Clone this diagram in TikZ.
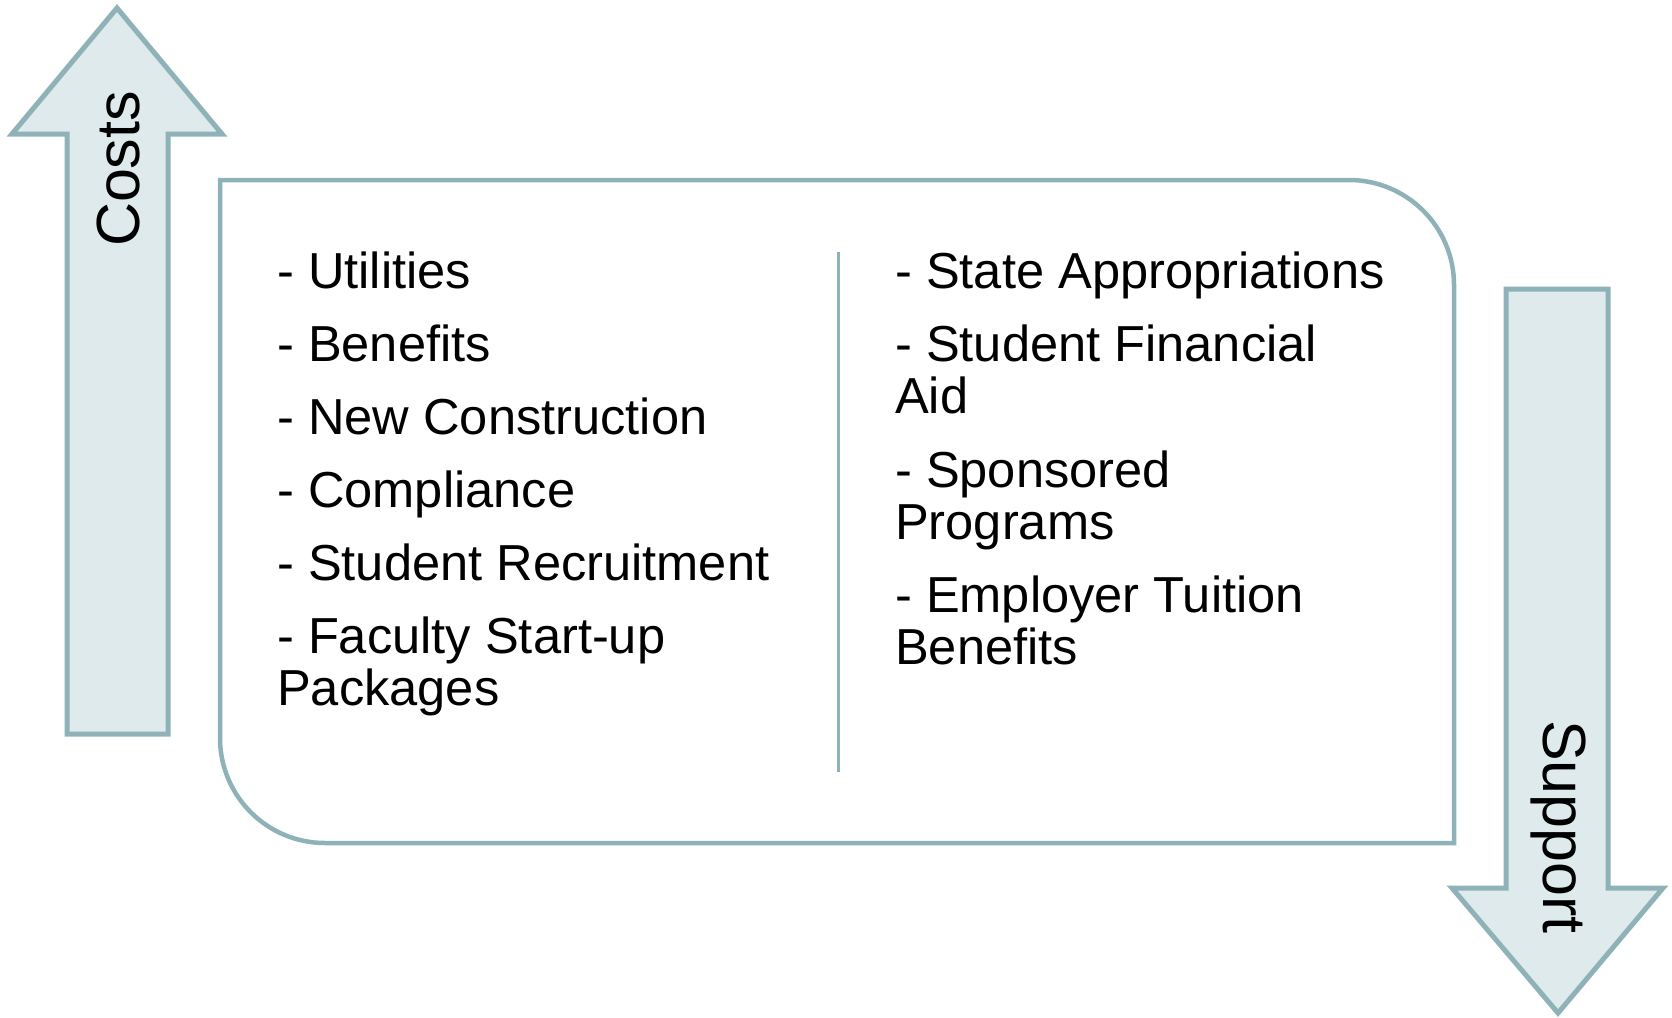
\documentclass[tikz,border=0pt]{standalone}
\usepackage{fontspec}
\setmainfont{Liberation Sans}
\definecolor{arrowline}{RGB}{143,178,184}
\definecolor{arrowfill}{RGB}{222,234,236}
\begin{document}
\begin{tikzpicture}[x=1pt,y=-1pt,
  arrowshape/.style={draw=arrowline,fill=arrowfill,line width=5pt,line join=miter},
  boxline/.style={draw=arrowline,line width=4.5pt},
  item/.style={anchor=base west,inner sep=0pt,font=\fontsize{50.6}{52}\selectfont},
  arrowlabel/.style={anchor=base,inner sep=0pt,font=\fontsize{61}{64}\selectfont}]
\useasboundingbox (0,0) rectangle (1672,1017);
% up arrow
\draw[arrowshape] (117,8) -- (222,134) -- (168,134) -- (168,734) -- (67,734) -- (67,134) -- (12,134) -- cycle;
\node[arrowlabel,rotate=90] (costs) at (139,169) {Costs};
% down arrow
\draw[arrowshape] (1506,289) -- (1608,289) -- (1608,888) -- (1663,888) -- (1558,1013) -- (1452,888) -- (1506,888) -- cycle;
\node[arrowlabel,rotate=-90] (support) at (1543,827) {Support};
% main box
\draw[boxline] (220,180) -- (1349,180) arc[start angle=-90,end angle=0,radius=105] -- (1454,843) -- (325,843) arc[start angle=90,end angle=180,radius=105] -- cycle;
% divider
\coordinate (dtop) at (838,252);
\coordinate (dbot) at (838,772);
\draw[draw=arrowline,line width=3pt] (dtop) -- (dbot);
% left column
\node[item] (l1) at (277,288) {- Utilities};
\node[item] (l2) at (277,361) {- Benefits};
\node[item] (l3) at (277,434) {- New Construction};
\node[item] (l4) at (277,507) {- Compliance};
\node[item] (l5) at (277,580) {- Student Recruitment};
\node[item] (l6) at (277,653) {- Faculty Start-up};
\node[item] (l6b) at (277,705) {Packages};
% right column
\node[item] (r1) at (895,288) {- State Appropriations};
\node[item] (r2) at (895,361) {- Student Financial};
\node[item] (r2b) at (895,413) {Aid};
\node[item] (r3) at (895,487) {- Sponsored};
\node[item] (r3b) at (895,539) {Programs};
\node[item] (r4) at (895,612) {- Employer Tuition};
\node[item] (r4b) at (895,664) {Benefits};
\end{tikzpicture}
\end{document}
